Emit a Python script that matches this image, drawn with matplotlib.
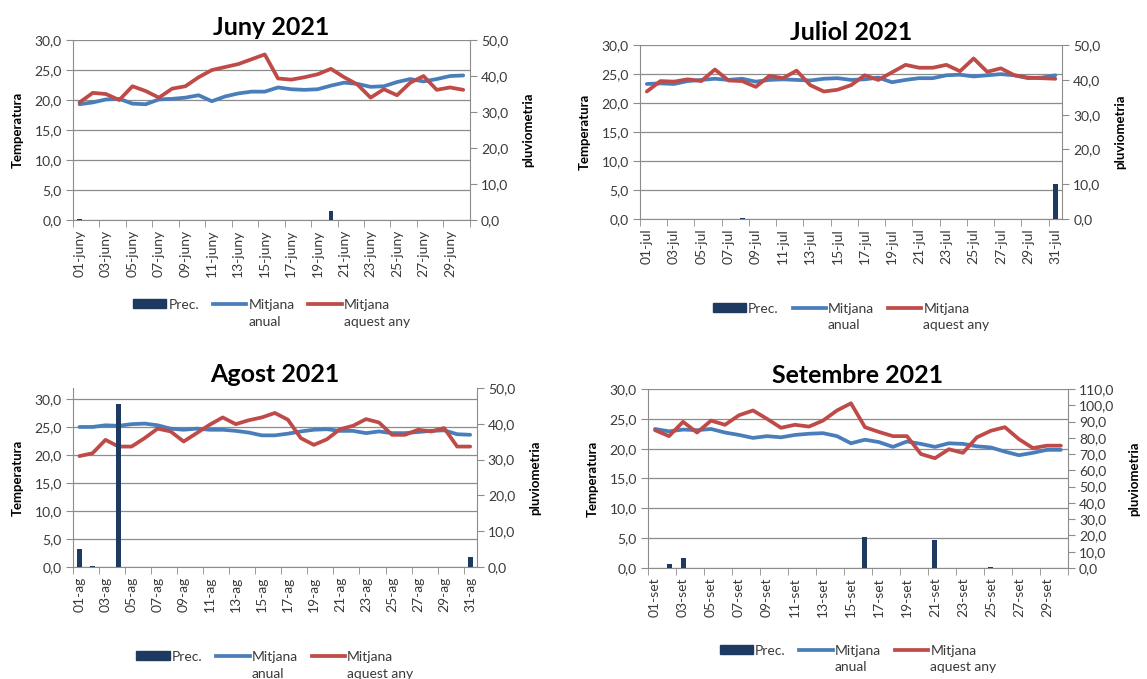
import numpy as np
import matplotlib
matplotlib.use("Agg")
import matplotlib.pyplot as plt
from matplotlib.ticker import FuncFormatter, MultipleLocator
from matplotlib.patches import Patch
from matplotlib.lines import Line2D

plt.rcParams['font.family'] = ['Lato', 'DejaVu Sans']

# daily values
# Prec. = rain (mm, right axis), anual = long-term mean temp, aquest = this year's mean temp
juny_labels = ["%02d-juny" % d for d in range(1, 31)]
juny_prec = [0.2, 0, 0, 0, 0, 0, 0, 0, 0, 0, 0, 0, 0, 0, 0,
             0, 0, 0, 0, 2.6, 0, 0, 0, 0, 0, 0, 0, 0, 0, 0]
juny_anual = [19.3, 19.6, 20.1, 20.2, 19.4, 19.3, 20.1, 20.2, 20.4, 20.8,
              19.8, 20.6, 21.1, 21.4, 21.4, 22.1, 21.8, 21.7, 21.8, 22.4,
              22.9, 22.7, 22.2, 22.3, 23.0, 23.5, 23.1, 23.5, 24.0, 24.1]
juny_aquest = [19.6, 21.2, 21.0, 20.0, 22.3, 21.5, 20.4, 21.9, 22.3, 23.8,
               25.0, 25.5, 26.0, 26.8, 27.6, 23.6, 23.4, 23.8, 24.3, 25.2,
               23.8, 22.6, 20.4, 21.8, 20.8, 22.9, 24.0, 21.7, 22.1, 21.7]

juliol_labels = ["%02d-jul" % d for d in range(1, 32)]
juliol_prec = [0, 0, 0, 0, 0, 0, 0, 0.3, 0, 0, 0, 0, 0, 0, 0, 0,
               0, 0, 0, 0, 0, 0, 0, 0, 0, 0, 0, 0, 0, 0, 10.0]
juliol_anual = [23.3, 23.4, 23.3, 23.8, 24.0, 24.2, 24.0, 24.2, 23.7, 24.0,
                24.1, 24.0, 23.9, 24.2, 24.3, 24.0, 24.1, 24.4, 23.6, 24.0,
                24.3, 24.3, 24.8, 24.9, 24.6, 24.8, 25.0, 24.8, 24.3, 24.4, 24.8]
juliol_aquest = [22.0, 23.8, 23.7, 24.1, 23.8, 25.8, 23.9, 23.8, 22.8, 24.7,
                 24.3, 25.6, 23.1, 22.0, 22.3, 23.1, 24.8, 24.0, 25.3, 26.6,
                 26.1, 26.1, 26.6, 25.5, 27.7, 25.4, 26.0, 24.8, 24.4, 24.3, 24.2]

agost_labels = ["%02d-ag" % d for d in range(1, 32)]
agost_prec = [4.9, 0.3, 0, 45.6, 0, 0, 0, 0, 0, 0, 0, 0, 0, 0, 0, 0,
              0, 0, 0, 0, 0, 0, 0, 0, 0, 0, 0, 0, 0, 0, 2.8]
agost_anual = [25.0, 25.0, 25.3, 25.2, 25.5, 25.6, 25.3, 24.7, 24.5, 24.7,
               24.5, 24.5, 24.3, 24.0, 23.5, 23.5, 23.8, 24.2, 24.5, 24.6,
               24.3, 24.3, 23.9, 24.2, 23.9, 23.9, 24.1, 24.3, 24.4, 23.7, 23.6]
agost_aquest = [19.8, 20.3, 22.7, 21.5, 21.5, 23.0, 24.7, 24.2, 22.4, 23.9,
                25.4, 26.7, 25.5, 26.2, 26.7, 27.5, 26.3, 23.0, 21.8, 22.8,
                24.6, 25.2, 26.4, 25.8, 23.6, 23.6, 24.5, 24.2, 24.8, 21.5, 21.5]

setembre_labels = ["%02d-set" % d for d in range(1, 31)]
setembre_prec = [0, 2.5, 5.9, 0, 0, 0, 0, 0, 0, 0, 0, 0, 0, 0, 0,
                 18.9, 0, 0, 0, 0, 17.2, 0, 0, 0, 0.6, 0, 0, 0, 0, 0]
setembre_anual = [23.3, 22.9, 23.2, 23.1, 23.3, 22.7, 22.3, 21.8, 22.1, 21.9,
                  22.3, 22.5, 22.6, 22.1, 20.9, 21.5, 21.1, 20.3, 21.2, 20.8,
                  20.3, 20.9, 20.8, 20.4, 20.2, 19.5, 18.9, 19.3, 19.8, 19.8]
setembre_aquest = [23.1, 22.1, 24.5, 22.7, 24.7, 24.0, 25.6, 26.4, 25.0, 23.5,
                   24.0, 23.7, 24.7, 26.4, 27.6, 23.6, 22.8, 22.1, 22.1, 19.1,
                   18.4, 19.9, 19.3, 21.9, 23.0, 23.6, 21.6, 20.1, 20.5, 20.5]

BLUE = '#4a7ebb'
RED = '#be4b48'
NAVY = '#1f3a60'
GREY = '#8c8c8c'
TXT = '#3a3a3a'
LW = 2.7


def comma_fmt(v, pos):
    return ("%.1f" % v).replace('.', ',')


def draw_month(fig, rect, title, labels, prec, anual, aquest, t_max, p_max, leg_y):
    ax = fig.add_axes(rect)
    ax2 = ax.twinx()
    n = len(labels)
    x = np.arange(1, n + 1)

    ax.plot(x, anual, color=BLUE, lw=LW, solid_joinstyle='round', solid_capstyle='round')
    ax.plot(x, aquest, color=RED, lw=LW, solid_joinstyle='round', solid_capstyle='round')
    ax2.bar(x, prec, width=0.36, color=NAVY)

    ax.set_xlim(0.5, n + 0.5)
    ax.set_ylim(0, t_max)
    ax2.set_ylim(0, p_max)

    # labels on every other day, tick marks between categories
    ax.set_xticks(x[::2])
    ax.set_xticklabels(labels[::2], rotation=90, fontsize=10, color=TXT)
    ax.set_xticks(np.arange(0.5, n + 1, 2), minor=True)
    ax.tick_params(axis='x', which='major', length=0, pad=7)
    ax.tick_params(axis='x', which='minor', length=5, color=GREY)

    ax.yaxis.set_major_locator(MultipleLocator(5))
    ax.yaxis.set_major_formatter(FuncFormatter(comma_fmt))
    ax2.yaxis.set_major_locator(MultipleLocator(10))
    ax2.yaxis.set_major_formatter(FuncFormatter(comma_fmt))
    ax.tick_params(axis='y', length=5, color=GREY, labelsize=10, labelcolor=TXT, pad=3)
    ax2.tick_params(axis='y', length=5, color=GREY, labelsize=10, labelcolor=TXT, pad=3)

    ax.yaxis.grid(True, color=GREY, lw=0.9)
    ax.set_axisbelow(True)

    for s in ['top', 'right']:
        ax.spines[s].set_visible(False)
    for s in ['top', 'left', 'bottom']:
        ax2.spines[s].set_visible(False)
    for s in ['left', 'bottom']:
        ax.spines[s].set_color(GREY)
    ax2.spines['right'].set_color(GREY)

    ax.set_title(title, fontsize=18, fontweight='bold', pad=4)
    ax.set_ylabel('Temperatura', fontsize=9.5, fontweight='bold', labelpad=8)
    ax2.set_ylabel('pluviometria', fontsize=9.5, fontweight='bold', rotation=90, labelpad=10)

    handles = [Patch(color=NAVY),
               Line2D([], [], color=BLUE, lw=LW),
               Line2D([], [], color=RED, lw=LW)]
    leg = ax.legend(handles, ['Prec.', 'Mitjana\nanual', 'Mitjana\naquest any'],
                    loc='upper center', bbox_to_anchor=(0.5, leg_y), ncol=3,
                    frameon=False, fontsize=10, handlelength=2.4, handleheight=0.65,
                    handletextpad=0.15, columnspacing=1.0, labelspacing=0.1)
    for t in leg.get_texts():
        t.set_color(TXT)
        t.set_linespacing(1.45)
    # keep the handle next to the first text line, like Excel does
    leg._legend_handle_box.align = 'top'
    for col in leg._legend_handle_box.get_children():
        col.align = 'left'
        for item in col.get_children():
            item.align = 'top'
    return ax, ax2


def main():
    fig = plt.figure(figsize=(11.47, 6.79), dpi=100)

    draw_month(fig, [0.0636, 0.676, 0.346, 0.265], 'Juny 2021',
               juny_labels, juny_prec, juny_anual, juny_aquest, 30, 50, -0.37)
    draw_month(fig, [0.558, 0.6775, 0.368, 0.256], 'Juliol 2021',
               juliol_labels, juliol_prec, juliol_anual, juliol_aquest, 30, 50, -0.41)
    draw_month(fig, [0.0636, 0.165, 0.352, 0.2636], 'Agost 2021',
               agost_labels, agost_prec, agost_anual, agost_aquest, 31.96, 50, -0.40)
    draw_month(fig, [0.565, 0.1635, 0.366, 0.2636], 'Setembre 2021',
               setembre_labels, setembre_prec, setembre_anual, setembre_aquest, 30, 110, -0.36)

    fig.savefig('out.png', dpi=100)


if __name__ == "__main__":
    main()
